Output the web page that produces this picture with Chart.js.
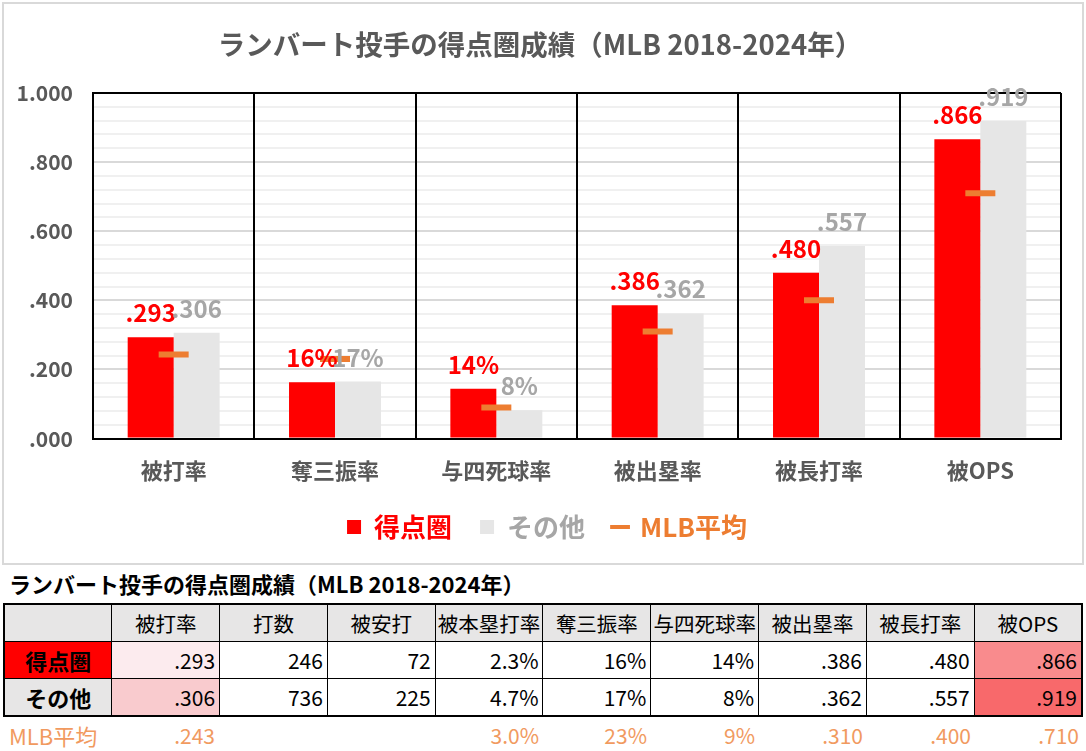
<!DOCTYPE html>
<html>
<head>
<meta charset="utf-8">
<script src="https://cdn.jsdelivr.net/npm/chart.js@4"></script>
<style>
  body { margin: 0; background: #fff; font-family: "Noto Sans CJK JP", sans-serif; }
  #box { position: absolute; left: 2px; top: 2px; width: 1082px; height: 563px; border: 2px solid #d9d9d9; box-sizing: border-box; }
  #tblTitle { position: absolute; left: 9px; top: 569px; font-size: 22px; font-weight: bold; color: #000; line-height: 28px; }
  table { position: absolute; left: 3px; width: 1080px; border-collapse: collapse; table-layout: fixed; }
  #tbl { top: 603px; border: 2px solid #000; }
  #tbl td { height: 36px; border: 1px solid #000; padding: 0 4px; font-size: 21px; text-align: right; color: #000; white-space: nowrap; overflow: hidden; }
  #tbl tr.head td { background: #e7e6e6; text-align: center; font-size: 20.5px; padding: 0; }
  #tbl td.rowname { text-align: center; font-weight: bold; font-size: 22px; }
  #mlb { top: 718px; }
  #mlb td { height: 34px; padding: 0 4px; font-size: 21px; text-align: right; color: #f19a5f; }
  #mlb td.rowname { text-align: left; padding-left: 6px; font-size: 22px; }
</style>
</head>
<body>
<div id="box"><canvas id="myChart" width="1078" height="559"></canvas></div>
<div id="tblTitle">ランバート投手の得点圏成績（MLB 2018-2024年）</div>
<table id="tbl"></table>
<table id="mlb"></table>
<script>
const titleText = 'ランバート投手の得点圏成績（MLB 2018-2024年）';
const categories = ['被打率', '奪三振率', '与四死球率', '被出塁率', '被長打率', '被OPS'];
const seriesNames = ['得点圏', 'その他', 'MLB平均'];
const rispValues = [0.293, 0.163, 0.144, 0.386, 0.480, 0.866];
const otherValues = [0.306, 0.165, 0.082, 0.362, 0.557, 0.919];
const mlbValues = [0.243, 0.23, 0.09, 0.310, 0.400, 0.710];
const rispLabels = ['.293', '16%', '14%', '.386', '.480', '.866'];
const otherLabels = ['.306', '17%', '8%', '.362', '.557', '.919'];
const yTickLabels = { 0: '.000', 20: '.200', 40: '.400', 60: '.600', 80: '.800', 100: '1.000' };

const tableHeaders = ['被打率', '打数', '被安打', '被本塁打率', '奪三振率', '与四死球率', '被出塁率', '被長打率', '被OPS'];
const tableRisp = ['.293', '246', '72', '2.3%', '16%', '14%', '.386', '.480', '.866'];
const tableOthers = ['.306', '736', '225', '4.7%', '17%', '8%', '.362', '.557', '.919'];
const tableMlb = ['.243', '', '', '3.0%', '23%', '9%', '.310', '.400', '.710'];

const RED = '#ff0000';
const GRAY = '#e6e6e6';
const GRAY_TEXT = '#a6a6a6';
const ORANGE = '#ed7d31';

Chart.defaults.font.family = '"Noto Sans CJK JP", sans-serif';

// bar value labels (no datalabels plugin available)
const barLabels = {
  id: 'barLabels',
  afterDatasetsDraw(chart) {
    const ctx = chart.ctx;
    ctx.save();
    ctx.font = 'bold 24px "Noto Sans CJK JP", sans-serif';
    ctx.textAlign = 'center';
    ctx.textBaseline = 'alphabetic';
    [[0, rispLabels, RED], [1, otherLabels, GRAY_TEXT]].forEach(([di, labels, color]) => {
      ctx.fillStyle = color;
      chart.getDatasetMeta(di).data.forEach((bar, i) => {
        ctx.fillText(labels[i], bar.x, bar.y - 15);
      });
    });
    ctx.restore();
  }
};

// title and legend sit a bit right of the plot centre in the original
const shiftBoxes = {
  id: 'shiftBoxes',
  afterLayout(chart) {
    chart.titleBlock.left += 7;
    chart.titleBlock.right += 7;
    chart.legend.left += 14;
    chart.legend.right += 14;
  }
};

const ctx = document.getElementById('myChart').getContext('2d');
const myChart = new Chart(ctx, {
  data: {
    labels: categories,
    datasets: [
      {
        type: 'bar',
        label: seriesNames[0],
        data: rispValues,
        backgroundColor: RED,
        categoryPercentage: 0.57,
        barPercentage: 1,
        order: 1,
      },
      {
        type: 'bar',
        label: seriesNames[1],
        data: otherValues,
        backgroundColor: GRAY,
        categoryPercentage: 0.57,
        barPercentage: 1,
        order: 1,
      },
      {
        type: 'line',
        label: seriesNames[2],
        data: mlbValues,
        showLine: false,
        pointStyle: 'line',
        pointRadius: 15,
        pointHoverRadius: 15,
        borderWidth: 6,
        pointBorderWidth: 6,
        borderColor: ORANGE,
        backgroundColor: ORANGE,
        order: 0,
      },
    ],
  },
  plugins: [barLabels, shiftBoxes],
  options: {
    responsive: false,
    animation: false,
    layout: { padding: { left: 0, right: 20, top: 0, bottom: 13 } },
    plugins: {
      tooltip: { enabled: false },
      title: {
        display: true,
        text: titleText,
        color: '#595959',
        font: { size: 27.5, weight: 'bold' },
        padding: { top: 24, bottom: 32 },
      },
      legend: {
        position: 'bottom',
        labels: {
          usePointStyle: true,
          boxHeight: 14,
          boxWidth: 14,
          padding: 28,
          font: { size: 26, weight: 'bold' },
          generateLabels: function () {
            return [
              { text: seriesNames[0], fillStyle: RED, strokeStyle: RED, lineWidth: 0, pointStyle: 'rect', fontColor: RED, datasetIndex: 0, hidden: false },
              { text: seriesNames[1], fillStyle: GRAY, strokeStyle: GRAY, lineWidth: 0, pointStyle: 'rect', fontColor: GRAY_TEXT, datasetIndex: 1, hidden: false },
              { text: seriesNames[2], fillStyle: ORANGE, strokeStyle: ORANGE, lineWidth: 4, pointStyle: 'line', fontColor: ORANGE, datasetIndex: 2, hidden: false },
            ];
          },
        },
      },
    },
    scales: {
      x: {
        grid: { offset: true, color: '#000', lineWidth: 2, drawTicks: false, z: -1 },
        border: { color: '#000', width: 2 },
        ticks: {
          color: '#595959',
          padding: 19,
          font: { size: 22, weight: 'bold' },
        },
        afterFit: function (scale) { scale.height = scale.height - 17; },
      },
      y: {
        min: 0,
        max: 1,
        border: { color: '#000', width: 2 },
        grid: {
          z: -2,
          drawTicks: false,
          color: function (c) {
            const v = Math.round(c.tick.value * 100);
            if (v === 0 || v === 100) return '#000';
            return v % 20 === 0 ? '#d9d9d9' : '#f0f0f0';
          },
          lineWidth: 2,
        },
        ticks: {
          stepSize: 0.04,
          autoSkip: false,
          padding: 20,
          color: '#595959',
          font: { size: 21, weight: 'bold' },
          callback: function (value) {
            const v = Math.round(value * 100);
            return yTickLabels[v] !== undefined ? yTickLabels[v] : '';
          },
        },
        afterFit: function (scale) { scale.width = 89; },
      },
    },
  },
});

// data table under the chart
const cellBg = {
  '0-0': '#fcebee', '1-0': '#f9cbce',
  '0-8': '#f98b8d', '1-8': '#f8696b',
};
let html = '<tr class="head"><td></td>' + tableHeaders.map(h => '<td>' + h + '</td>').join('') + '</tr>';
[[seriesNames[0], tableRisp, RED], [seriesNames[1], tableOthers, '#e7e6e6']].forEach(([name, vals, bg], r) => {
  html += '<tr><td class="rowname" style="background:' + bg + '">' + name + '</td>';
  vals.forEach((v, c) => {
    const b = cellBg[r + '-' + c];
    html += '<td' + (b ? ' style="background:' + b + '"' : '') + '>' + v + '</td>';
  });
  html += '</tr>';
});
document.getElementById('tbl').innerHTML = html;
document.getElementById('mlb').innerHTML = '<tr><td class="rowname">' + seriesNames[2] + '</td>' +
  tableMlb.map(v => '<td>' + v + '</td>').join('') + '</tr>';
</script>
</body>
</html>
